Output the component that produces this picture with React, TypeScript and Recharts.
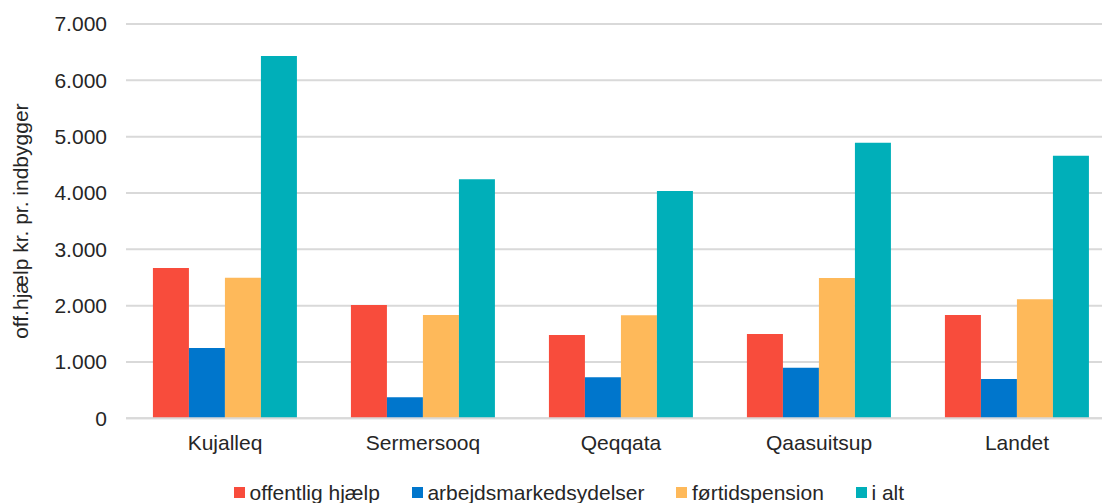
import React from "react";
import { BarChart, Bar, XAxis, YAxis, CartesianGrid, Legend } from "recharts";

// Municipalities plus the national total
const municipalities = ["Kujalleq", "Sermersooq", "Qeqqata", "Qaasuitsup", "Landet"];

// Kroner per inhabitant
const offentligHjaelp = [2667, 2012, 1478, 1496, 1833];
const arbejdsmarkedsydelser = [1249, 374, 727, 898, 697];
const foertidspension = [2495, 1833, 1828, 2490, 2112];
const iAlt = [6430, 4243, 4034, 4891, 4660];

const yTicks = [0, 1000, 2000, 3000, 4000, 5000, 6000, 7000];

const seriesKeys = ["offentlig", "arbejd", "foertid", "ialt"];
const seriesNames = ["offentlig hjælp", "arbejdsmarkedsydelser", "førtidspension", "i alt"];
const seriesColors = ["#F84C3C", "#0076CC", "#FEB95A", "#00AFB9"];

const data = municipalities.map((name, i) => ({
  name,
  offentlig: offentligHjaelp[i],
  arbejd: arbejdsmarkedsydelser[i],
  foertid: foertidspension[i],
  ialt: iAlt[i],
}));

const FONT = '"Liberation Sans", Arial, sans-serif';
const TEXT = "#262626";

const formatThousands = (v: number) =>
  String(v).replace(/\B(?=(\d{3})+(?!\d))/g, ".");

// Legend row kept in series order, with small square swatches
const LegendRow = (props: any) => {
  const items = [...(props.payload || [])].sort(
    (a: any, b: any) => seriesNames.indexOf(a.value) - seriesNames.indexOf(b.value)
  );
  return (
    <div
      style={{
        display: "flex",
        alignItems: "flex-start",
        fontFamily: FONT,
        fontSize: 21,
        lineHeight: "21px",
        color: TEXT,
      }}
    >
      {items.map((it: any, i: number) => (
        <div key={i} style={{ display: "flex", alignItems: "flex-start", marginRight: 32, whiteSpace: "nowrap" }}>
          <span style={{ display: "inline-block", width: 11, height: 11, marginTop: 5.8, marginRight: 4.5, background: it.color }} />
          <span>{it.value}</span>
        </div>
      ))}
    </div>
  );
};

export default function App() {
  return (
    <div style={{ position: "absolute", left: 0, top: 0, width: 1102, height: 503, overflow: "hidden", background: "#fff" }}>
      <BarChart
        width={1116}
        height={503}
        data={data}
        margin={{ top: 24, right: 0, bottom: 0, left: 0 }}
        barCategoryGap="13.6%"
        barGap={0}
      >
        <CartesianGrid vertical={false} stroke="#D9D9D9" strokeWidth={2} />
        <XAxis
          dataKey="name"
          height={84.7}
          interval={0}
          tickLine={false}
          axisLine={{ stroke: "#D9D9D9", strokeWidth: 2 }}
          tickSize={0}
          tickMargin={17}
          tick={{ fill: TEXT, fontSize: 21, fontFamily: FONT }}
        />
        <YAxis
          width={126}
          domain={[0, 7000]}
          ticks={yTicks}
          interval={0}
          tickFormatter={formatThousands}
          tickLine={false}
          axisLine={false}
          tickSize={0}
          tickMargin={19}
          tick={{ fill: TEXT, fontSize: 21, fontFamily: FONT }}
          label={{
            value: "off.hjælp kr. pr. indbygger",
            angle: -90,
            position: "center",
            dx: -42,
            style: { fill: TEXT, fontSize: 21, fontFamily: FONT, textAnchor: "middle" },
          }}
        />
        <Legend
          layout="horizontal"
          verticalAlign="middle"
          align="center"
          content={<LegendRow />}
          wrapperStyle={{ top: 481.5, left: 234, width: 860 }}
        />
        {seriesKeys.map((k, i) => (
          <Bar key={k} dataKey={k} name={seriesNames[i]} fill={seriesColors[i]} isAnimationActive={false} />
        ))}
      </BarChart>
    </div>
  );
}
